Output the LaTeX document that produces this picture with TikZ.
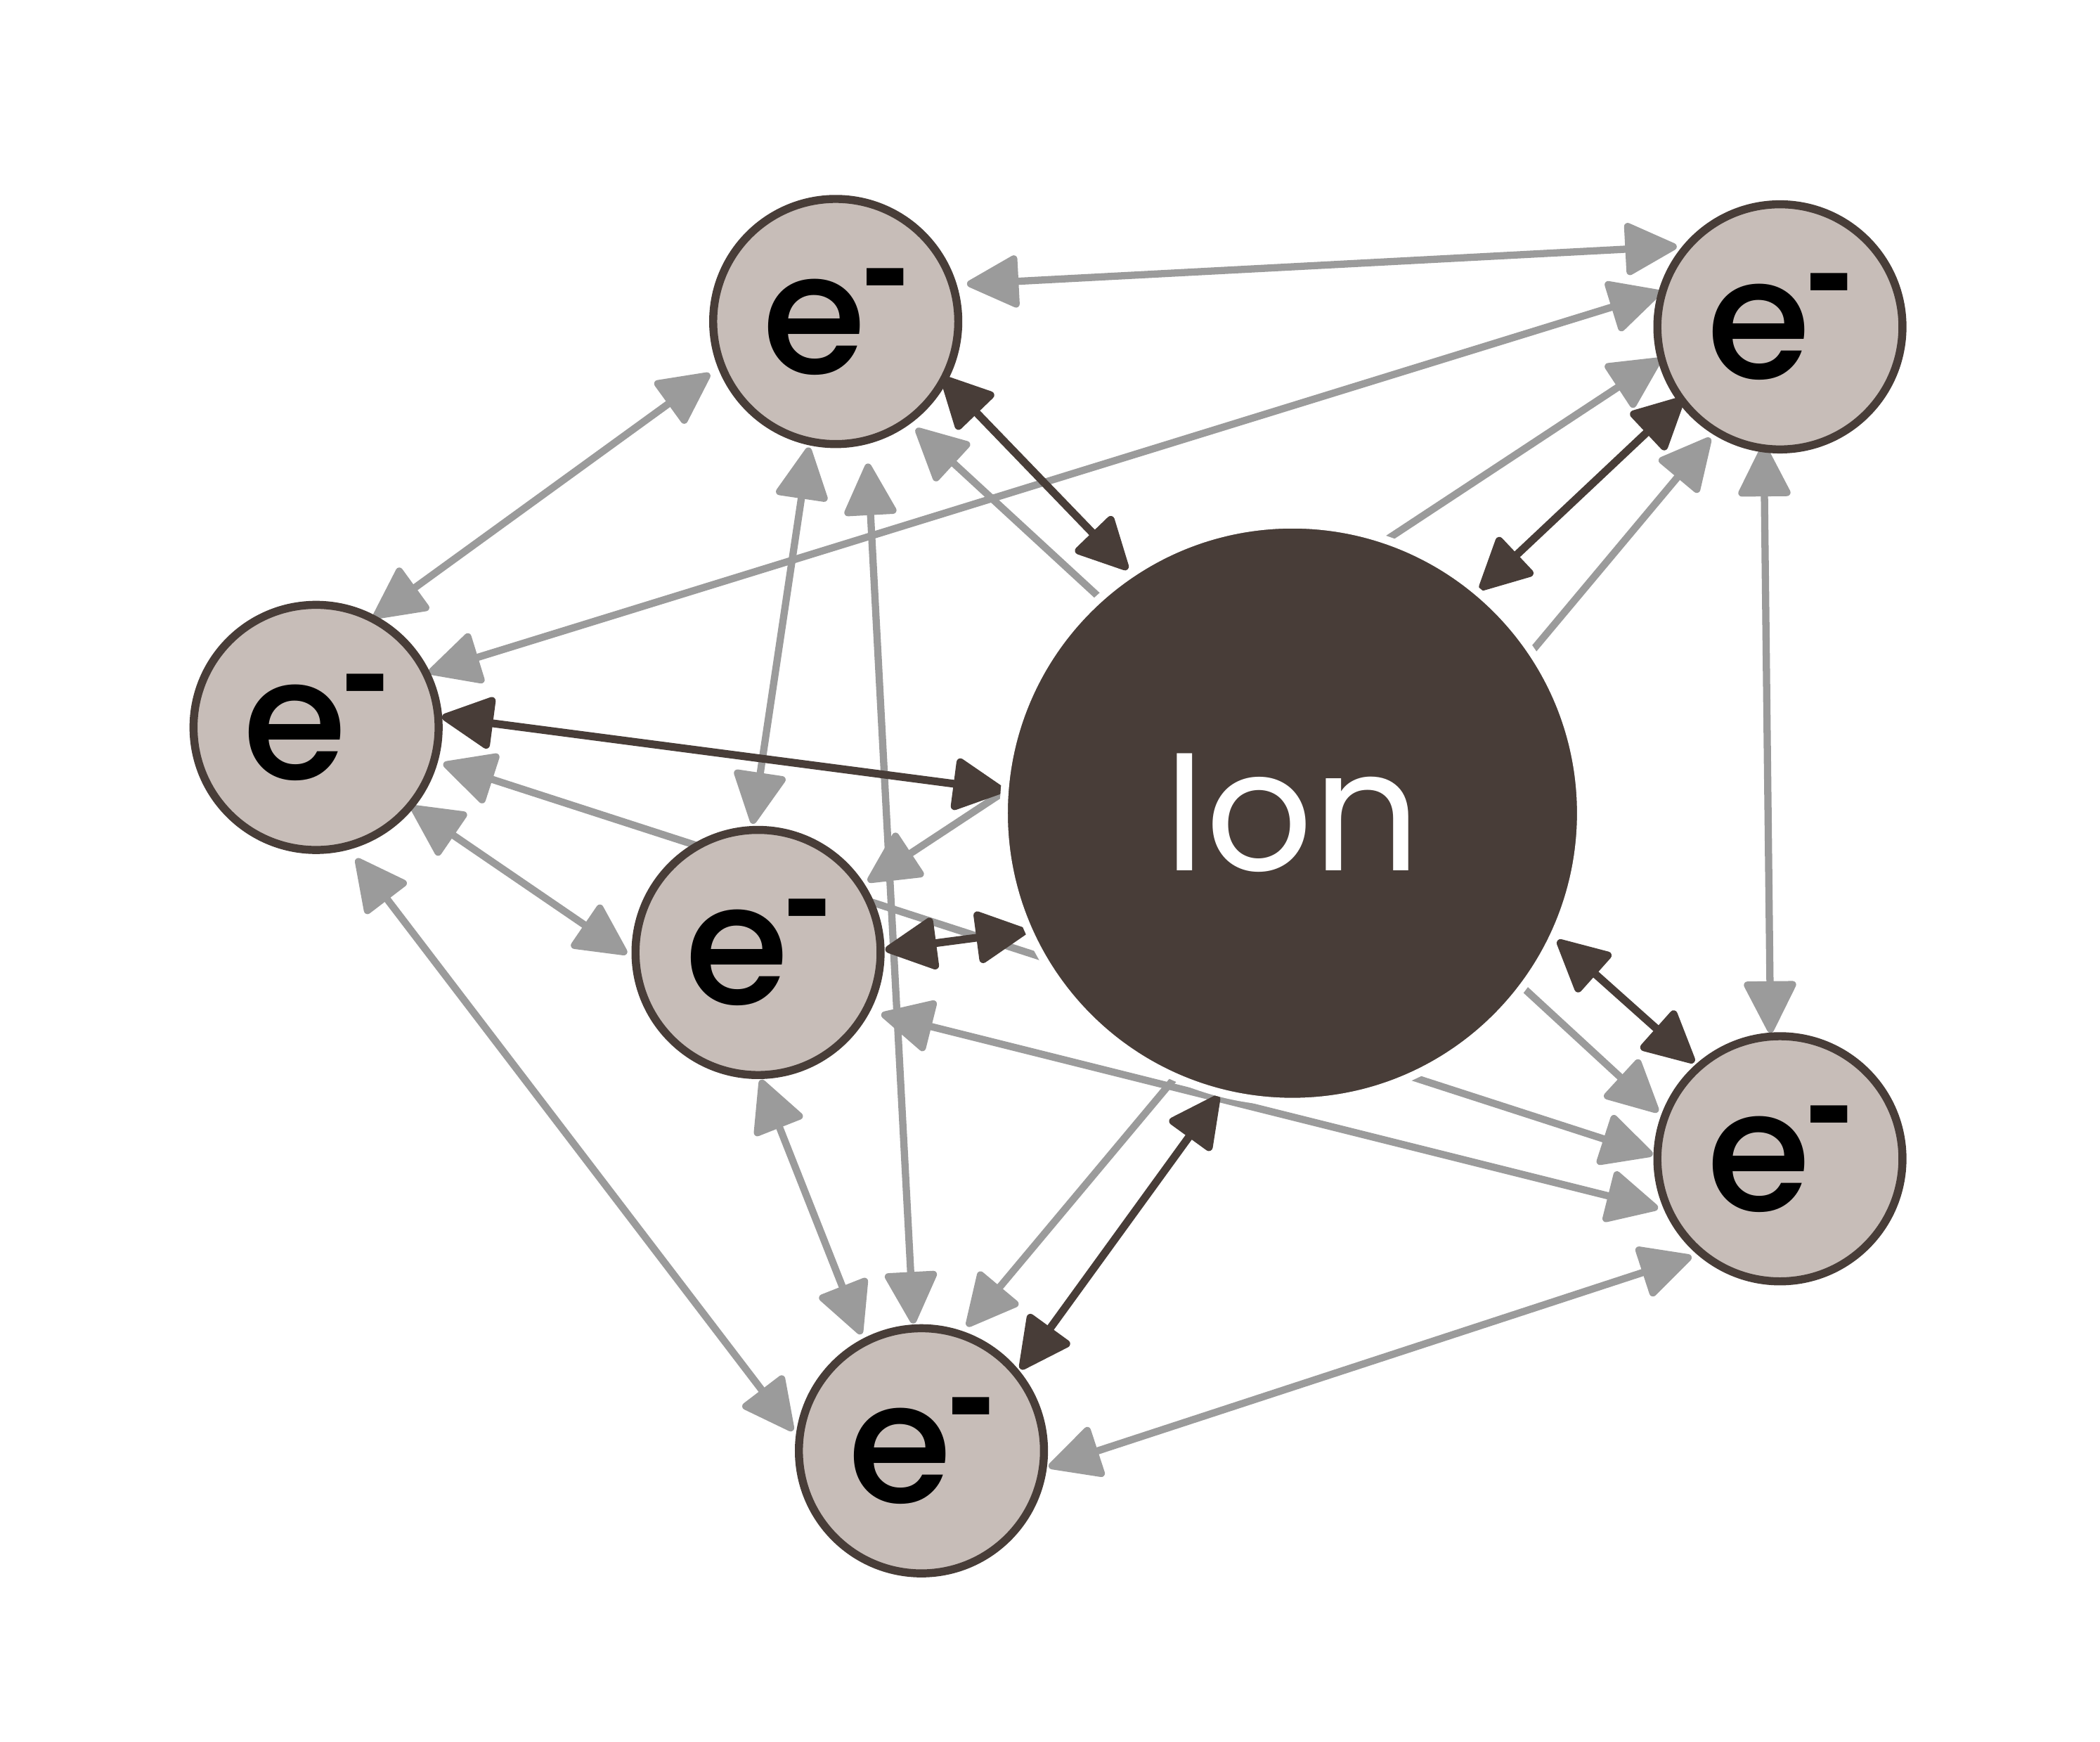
\documentclass[tikz,border=0pt]{standalone}
\usepackage{fontspec}
\setmainfont{Poppins}
\newfontfamily\efont{Poppins}[UprightFont={* Medium}]
\newfontfamily\hyfont{Liberation Sans}
\usetikzlibrary{arrows.meta,calc}
\definecolor{iondark}{HTML}{483D38}
\definecolor{efill}{HTML}{C7BDB8}
\definecolor{lgrey}{HTML}{9B9B9B}
\pgfdeclarelayer{back}
\pgfdeclarelayer{glayer}
\pgfdeclarelayer{dlayer}
\pgfsetlayers{back,glayer,dlayer,main}
\newcommand\echarge{e\kern-2pt\raisebox{22pt}{\hyfont\bfseries\fontsize{54pt}{54pt}\selectfont -}}
\begin{document}
\begin{tikzpicture}[x=0.5pt,y=-0.5pt,
  enode/.style={circle,draw=iondark,line width=3pt,fill=efill,minimum size=91.5pt,
    inner sep=0pt,outer sep=0pt,font=\efont\fontsize{63pt}{63pt}\selectfont},
  ionnode/.style={circle,draw=white,line width=3pt,fill=iondark,minimum size=215.5pt,
    inner sep=0pt,outer sep=0pt,text=white,font=\fontsize{62.7pt}{62.7pt}\selectfont},
  gline/.style={draw=lgrey,line width=2.7pt,
    >={Triangle[length=21pt,width=20.5pt,round]},<->},
  dline/.style={draw=iondark,line width=2.9pt,
    >={Triangle[length=21pt,width=20.5pt,round]},<->}]
\useasboundingbox (0,0) rectangle (1568,1300);
\begin{pgfonlayer}{back}
\fill[white] (0,0) rectangle (1568,1300);
\end{pgfonlayer}

\node[ionnode] (I) at (965,607) {Ion};
\node[enode] (T) at (624,240) {\echarge};
\node[enode] (TR) at (1329,244) {\echarge};
\node[enode] (L) at (236,543) {\echarge};
\node[enode] (M) at (566,711) {\echarge};
\node[enode] (B) at (688,1083) {\echarge};
\node[enode] (R) at (1329,865) {\echarge};

\begin{pgfonlayer}{glayer}
\draw[gline] ($(T)+(98,-28)$) -- ($(TR)+(-77,-60)$);
\draw[gline] ($(T)+(-94,39)$) -- ($(L)+(43,-82)$);
\draw[gline] ($(T)+(-20,94)$) -- ($(M)+(-4,-96)$);
\draw[gline] ($(T)+(24,106)$) -- ($(B)+(-6,-95)$);
\draw[gline] ($(T)+(60,80)$) -- ($(R)+(-91,-35)$);
\draw[gline] ($(TR)+(-89,-26)$) -- ($(L)+(84,-41)$);
\draw[gline] ($(TR)+(-89,24)$) -- ($(M)+(82,-53)$);
\draw[gline] ($(TR)+(-52,83)$) -- ($(B)+(34,-93)$);
\draw[gline] ($(TR)+(-12,88)$) -- ($(R)+(-7,-94)$);
\draw[gline] ($(L)+(71,59)$) -- ($(M)+(-98,1)$);
\draw[gline] ($(L)+(30,98)$) -- ($(B)+(-96,-15)$);
\draw[gline] ($(L)+(95,27)$) -- ($(R)+(-95,-3)$);
\draw[gline] ($(M)+(2,95)$) -- ($(B)+(-45,-87)$);
\draw[gline] ($(M)+(92,46)$) -- ($(R)+(-91,37)$);
\draw[gline] ($(B)+(95,12)$) -- ($(R)+(-66,73)$);
\end{pgfonlayer}

\begin{pgfonlayer}{dlayer}
\draw[dline] ($(I)+(-123,-182)$) -- ($(T)+(79,41)$);
\draw[dline] ($(I)+(140,-167)$) -- ($(TR)+(-72,53)$);
\draw[dline] ($(I)+(-215,-17)$) -- ($(L)+(94,-8)$);
\draw[dline] ($(I)+(-198,88)$) -- ($(M)+(95,-2)$);
\draw[dline] ($(I)+(198,95)$) -- ($(R)+(-64,-72)$);
\draw[dline] ($(I)+(-55,211)$) -- ($(B)+(74,-61)$);
\end{pgfonlayer}
\end{tikzpicture}
\end{document}
